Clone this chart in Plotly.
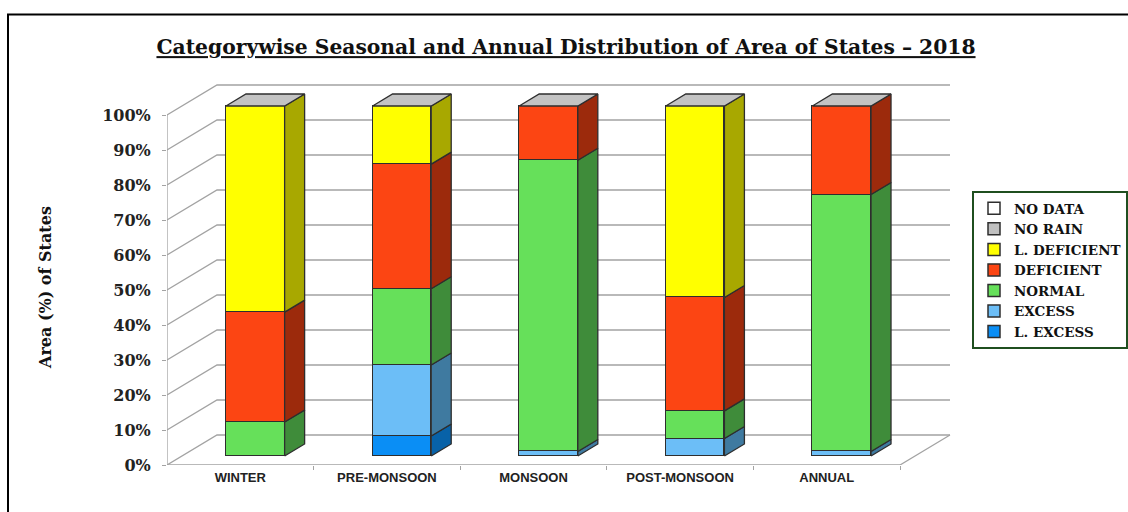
import numpy as np
import plotly.graph_objects as go

# ---------------- data ----------------
categories = ["WINTER", "PRE-MONSOON", "MONSOON", "POST-MONSOON", "ANNUAL"]
l_excess = [0.0, 5.7, 0.0, 0.0, 0.0]
excess = [0.0, 20.3, 1.3, 5.0, 1.3]
normal = [9.7, 21.8, 83.2, 7.9, 73.4]
deficient = [31.4, 35.6, 15.5, 32.4, 25.3]
l_deficient = [58.9, 16.6, 0.0, 54.7, 0.0]
no_rain = [0.0, 0.0, 0.0, 0.0, 0.0]
no_data = [0.0, 0.0, 0.0, 0.0, 0.0]
y_ticks = [0, 10, 20, 30, 40, 50, 60, 70, 80, 90, 100]
y_tick_labels = [f"{v}%" for v in y_ticks]

series = [  # bottom -> top
    ("L. EXCESS", l_excess, "#0a8ef5", "#0862a8"),
    ("EXCESS", excess, "#6cbef7", "#3f7aa0"),
    ("NORMAL", normal, "#66e05a", "#3f8c3a"),
    ("DEFICIENT", deficient, "#fc4513", "#9c2a0c"),
    ("L. DEFICIENT", l_deficient, "#ffff00", "#a8a800"),
    ("NO RAIN", no_rain, "#c0c0c0", "#909090"),
    ("NO DATA", no_data, "#ffffff", "#d0d0d0"),
]

# ---------------- geometry (3D look) ----------------
PX_X = 146.6          # pixels per category
PX_Y = 3.5            # pixels per percent
ML, MR, MT, MB = 167, 155, 73, 47
PLOT_W = 1128 - ML - MR
PLOT_H = 512 - MT - MB
X_RANGE = [-0.5, -0.5 + PLOT_W / PX_X]
Y_RANGE = [0, PLOT_H / PX_Y]
DX = 50 / PX_X        # wall depth in x units
DY = 30 / PX_Y        # wall depth in y units
FRONT = 0.3           # bar front at this fraction of depth
DEPTH = 0.4           # bar depth as fraction of depth
BW = 0.4              # bar width
ox, oy = FRONT * DX, FRONT * DY
bdx, bdy = DEPTH * DX, DEPTH * DY

GRID = "#a3a3a3"
EDGE = "#2e2e2e"

fig = go.Figure()

# ---- walls & floor (main axes) ----
n = len(categories)
xl, xr = -0.5, n - 0.5
wx, wy = [], []
for v in y_ticks:
    wx += [xl, xl + DX, xr + DX, None]
    wy += [v, v + DY, v + DY, None]
wx += [xl, xl, None, xl, xr, xr + DX]
wy += [0, 100, None, 0, 0, DY]
fig.add_trace(go.Scatter(x=wx, y=wy, mode="lines", line=dict(color=GRID, width=1.3),
                         hoverinfo="skip", showlegend=False))

# ---- bars (overlay axes shifted to bar front plane) ----
xs = np.arange(n)
cum = np.zeros(n)
for name, vals, col, side in series:
    vals = np.array(vals, dtype=float)
    fig.add_trace(go.Bar(x=xs, y=vals, name=name, width=BW, xaxis="x2", yaxis="y2",
                         marker=dict(color=col, line=dict(color=EDGE, width=1.5)),
                         hovertemplate="%{y:.1f}%<extra>" + name + "</extra>"))
    # side faces
    sx, sy = [], []
    for i in range(n):
        if vals[i] <= 0:
            continue
        lo, hi = cum[i], cum[i] + vals[i]
        r = xs[i] + BW / 2
        sx += [r, r + bdx, r + bdx, r, r, None]
        sy += [lo, lo + bdy, hi + bdy, hi, lo, None]
    if sx:
        fig.add_trace(go.Scatter(x=sx, y=sy, mode="lines", fill="toself", fillcolor=side,
                                 line=dict(color=EDGE, width=1.3), xaxis="x2", yaxis="y2",
                                 hoverinfo="skip", showlegend=False))
    cum = cum + vals

# top faces
tx, ty = [], []
for i in range(n):
    l_, r_ = xs[i] - BW / 2, xs[i] + BW / 2
    t = cum[i]
    tx += [l_, l_ + bdx, r_ + bdx, r_, l_, None]
    ty += [t, t + bdy, t + bdy, t, t, None]
fig.add_trace(go.Scatter(x=tx, y=ty, mode="lines", fill="toself", fillcolor="#c3c3c3",
                         line=dict(color=EDGE, width=1.3), xaxis="x2", yaxis="y2",
                         hoverinfo="skip", showlegend=False))

def px2paper_x(p):
    return (p - ML) / PLOT_W

def px2paper_y(p):
    return (512 - MB - p) / PLOT_H

fig.update_layout(
    width=1128, height=512,
    margin=dict(l=ML, r=MR, t=MT, b=MB, pad=0, autoexpand=False),
    paper_bgcolor="white", plot_bgcolor="white",
    barmode="stack", bargap=0,
    title=dict(text="Categorywise Seasonal and Annual Distribution of Area of States – 2018",
               x=566 / 1128, xanchor="center", y=1 - 47 / 512, yanchor="middle",
               font=dict(family="DejaVu Serif", size=20.3, weight="bold", color="#111",
                         lineposition="under")),
    xaxis=dict(range=X_RANGE, tickvals=list(xs), ticktext=categories,
               ticks="", showgrid=False, zeroline=False, showline=False,
               ticklabelstandoff=3,
               tickfont=dict(family="Liberation Sans", size=13, weight="bold", color="#222"),
               minor=dict(tickvals=list(np.arange(n + 1) - 0.5)[1:], ticks="outside",
                          ticklen=4, tickcolor=GRID, tickwidth=1.3),
               fixedrange=True),
    yaxis=dict(range=Y_RANGE, tickvals=y_ticks, ticktext=y_tick_labels,
               ticks="outside", ticklen=4, tickcolor=GRID, tickwidth=1.3,
               showgrid=False, zeroline=False, showline=False,
               ticklabelstandoff=8,
               tickfont=dict(family="DejaVu Serif", size=16, weight="bold", color="#222"),
               fixedrange=True),
    xaxis2=dict(range=[X_RANGE[0] - ox, X_RANGE[1] - ox], overlaying="x", anchor="y2",
                visible=False, fixedrange=True),
    yaxis2=dict(range=[Y_RANGE[0] - oy, Y_RANGE[1] - oy], overlaying="y", anchor="x2",
                visible=False, fixedrange=True),
    legend=dict(x=px2paper_x(972), y=px2paper_y(191), xanchor="left", yanchor="top",
                traceorder="reversed", bordercolor="#1f4f1f", borderwidth=2,
                bgcolor="white", itemwidth=30,
                font=dict(family="DejaVu Serif", size=13.5, weight="bold", color="#111")),
    annotations=[dict(text="Area (%) of States", textangle=-90, showarrow=False,
                      xref="paper", yref="paper", x=px2paper_x(45), y=px2paper_y(287),
                      xanchor="center", yanchor="middle",
                      font=dict(family="DejaVu Serif", size=16, weight="bold", color="#111"))],
    shapes=[dict(type="rect", xref="paper", yref="paper", layer="above",
                 x0=px2paper_x(8), x1=px2paper_x(1140), y0=px2paper_y(14.5), y1=px2paper_y(530),
                 line=dict(color="#000", width=2), fillcolor="rgba(0,0,0,0)")],
)

fig.write_html("out.html", post_script="document.body.style.margin='0';",
               config={"displayModeBar": False})
